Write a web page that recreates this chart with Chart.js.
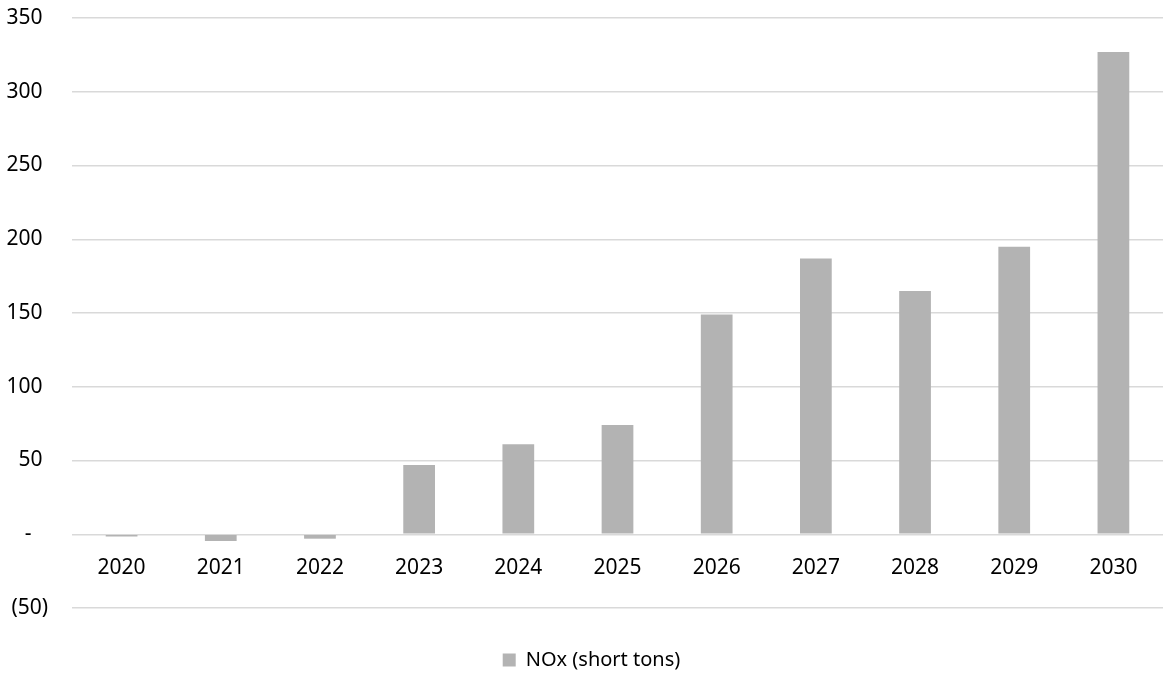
<!DOCTYPE html>
<html>
<head>
<meta charset="utf-8">
<script src="https://cdn.jsdelivr.net/npm/chart.js@4"></script>
<style>
  html, body { margin: 0; padding: 0; background: #fff; }
  #wrap { width: 1166px; height: 675px; }
</style>
</head>
<body>
<div id="wrap"><canvas id="grafico"></canvas></div>
<script>
// dados do gráfico
const anos = ['2020', '2021', '2022', '2023', '2024', '2025', '2026', '2027', '2028', '2029', '2030'];
const noxToneladas = [-1.5, -4.5, -3, 47, 61, 74, 149, 187, 165, 195, 327];
const rotuloSerie = 'NOx (short tons)';
const eixoMin = -50;
const eixoMax = 350;
const eixoPasso = 50;

// formata como no Excel (contábil): zero vira "-", negativo entre parênteses
function formatarContabil(v) {
    if (v === 0) return '-   ';
    if (v < 0) return '(' + Math.abs(v) + ')';
    return v + ' ';
}

// empurra a legenda um pouco para baixo/direita, como no original
const ajusteLegenda = {
    id: 'ajusteLegenda',
    afterLayout(chart) {
        const leg = chart.legend;
        if (!leg) return;
        leg.top += 5;
        leg.bottom += 5;
        leg.left += 10;
        leg.right += 10;
    }
};

Chart.defaults.font.family = "'Noto Sans', 'Open Sans', sans-serif";
Chart.defaults.color = '#000';

const ctx = document.getElementById('grafico').getContext('2d');

new Chart(ctx, {
    type: 'bar',
    data: {
        labels: anos,
        datasets: [{
            label: rotuloSerie,
            data: noxToneladas,
            backgroundColor: '#b3b3b3',
            borderWidth: 0,
            barPercentage: 0.32,
            categoryPercentage: 1.0
        }]
    },
    options: {
        responsive: true,
        maintainAspectRatio: false,
        animation: false,
        layout: {
            padding: { left: 0, right: 3, top: 18, bottom: 0 }
        },
        scales: {
            x: {
                position: { y: 0 }, // eixo das categorias ancorado no zero
                grid: { display: false, drawTicks: false },
                border: { display: false },
                ticks: {
                    font: { size: 21 },
                    padding: 21,
                    maxRotation: 0
                }
            },
            y: {
                min: eixoMin,
                max: eixoMax,
                grid: { color: '#d9d9d9', lineWidth: 1.5, drawTicks: false },
                border: { display: false },
                ticks: {
                    stepSize: eixoPasso,
                    font: { size: 21 },
                    padding: 24,
                    callback: formatarContabil
                },
                afterFit: function(escala) {
                    // largura fixa do eixo e sem folga extra em cima/embaixo
                    escala.width = 72;
                    escala.paddingTop = 0;
                    escala.paddingBottom = 0;
                }
            }
        },
        plugins: {
            legend: {
                position: 'bottom',
                labels: {
                    boxWidth: 13,
                    boxHeight: 13,
                    font: { size: 20 },
                    padding: 37
                }
            },
            tooltip: { enabled: false }
        }
    },
    plugins: [ajusteLegenda]
});
</script>
</body>
</html>
